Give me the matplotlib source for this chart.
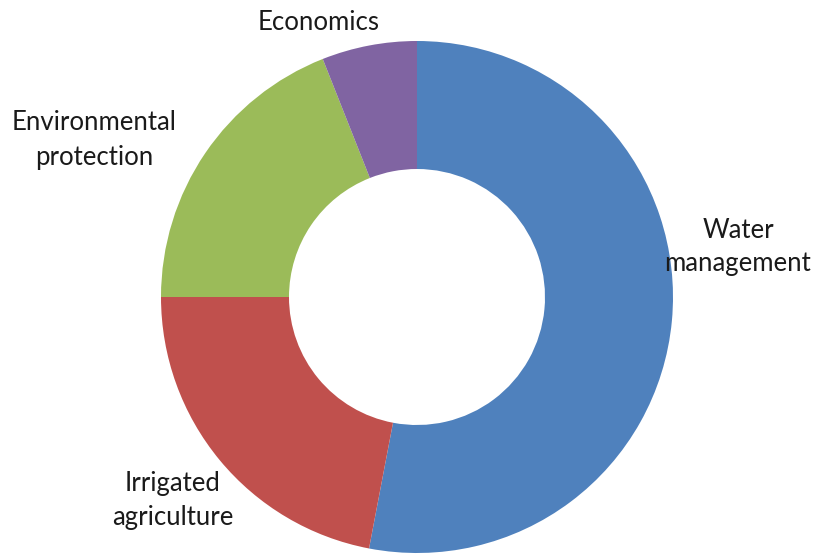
import matplotlib.pyplot as plt

# Share of topics (percent), clockwise from the top
labels = ['Water\nmanagement', 'Irrigated\nagriculture', 'Environmental\nprotection', 'Economics']
values = [53, 22, 19, 6]
colors = ['#4F81BD', '#C0504D', '#9BBB59', '#8064A2']

# label positions in pixels (x, y from top)
label_pos = [(738, 247), (173, 501), (94, 140), (319, 22)]

fig = plt.figure(figsize=(8.17, 5.54), dpi=100)
ax = fig.add_axes([0, 0, 1, 1])

ax.pie(values, colors=colors, startangle=90, counterclock=False,
       center=(417, 257), radius=256, frame=True,
       wedgeprops=dict(width=128, linewidth=0))
ax.set_xlim(0, 817)
ax.set_ylim(0, 554)
ax.axis('off')

for lab, (x, y) in zip(labels, label_pos):
    ax.text(x, 554 - y, lab, ha='center', va='center', fontsize=18.5,
            family='Lato', color='#1a1a1a', linespacing=1.45)

fig.savefig('out.png', dpi=100)
